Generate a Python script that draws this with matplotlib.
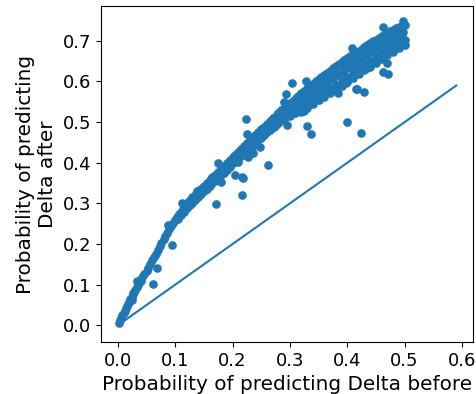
import numpy as np
import matplotlib
matplotlib.use('Agg')
import matplotlib.pyplot as plt

# upper edge of the dense band (probability before, probability after)
band_x = [0.002, 0.004, 0.006, 0.008, 0.010, 0.012, 0.014, 0.016, 0.018, 0.020,
          0.022, 0.024, 0.026, 0.028, 0.030, 0.033, 0.036, 0.040, 0.043, 0.046,
          0.050, 0.053, 0.056, 0.060, 0.063, 0.066, 0.070, 0.073, 0.076, 0.080,
          0.083, 0.086, 0.090, 0.093, 0.096, 0.100, 0.103, 0.106, 0.110, 0.113,
          0.116, 0.120, 0.123, 0.126, 0.130, 0.134, 0.138, 0.142, 0.146, 0.150,
          0.155, 0.160, 0.165, 0.170, 0.175, 0.180, 0.185, 0.190, 0.195, 0.200,
          0.205, 0.210, 0.215, 0.220, 0.225, 0.230, 0.235, 0.240, 0.245, 0.250,
          0.255, 0.260, 0.265, 0.270, 0.275, 0.280, 0.285, 0.290, 0.295, 0.300,
          0.305, 0.310, 0.315, 0.320, 0.325, 0.330, 0.335, 0.340, 0.345, 0.350,
          0.355, 0.360, 0.365, 0.370, 0.375, 0.380, 0.385, 0.390, 0.395, 0.400,
          0.405, 0.410, 0.415, 0.420, 0.425, 0.430, 0.435, 0.440, 0.445, 0.450,
          0.455, 0.460, 0.465, 0.470, 0.475, 0.480, 0.485, 0.490, 0.495, 0.500]
band_y = [0.005, 0.012, 0.018, 0.025, 0.030, 0.036, 0.042, 0.048, 0.052, 0.058,
          0.064, 0.070, 0.076, 0.081, 0.086, 0.094, 0.100, 0.110, 0.118, 0.126,
          0.134, 0.142, 0.150, 0.160, 0.168, 0.176, 0.186, 0.194, 0.202, 0.212,
          0.220, 0.228, 0.236, 0.244, 0.252, 0.260, 0.266, 0.274, 0.280, 0.287,
          0.293, 0.298, 0.304, 0.309, 0.315, 0.321, 0.327, 0.332, 0.338, 0.344,
          0.350, 0.357, 0.364, 0.371, 0.378, 0.385, 0.392, 0.399, 0.406, 0.413,
          0.420, 0.427, 0.434, 0.441, 0.448, 0.455, 0.462, 0.469, 0.476, 0.482,
          0.489, 0.496, 0.502, 0.509, 0.516, 0.522, 0.529, 0.535, 0.541, 0.547,
          0.553, 0.559, 0.565, 0.571, 0.577, 0.583, 0.589, 0.594, 0.600, 0.605,
          0.611, 0.616, 0.622, 0.627, 0.632, 0.637, 0.642, 0.647, 0.652, 0.657,
          0.662, 0.667, 0.672, 0.676, 0.681, 0.686, 0.690, 0.695, 0.699, 0.703,
          0.708, 0.712, 0.716, 0.720, 0.724, 0.727, 0.731, 0.734, 0.737, 0.740]

# body of the band, where it widens
lower_x = [0.105, 0.115, 0.125, 0.135, 0.145, 0.155, 0.165, 0.175, 0.185, 0.195,
           0.205, 0.215, 0.225, 0.235, 0.245, 0.255, 0.265, 0.275, 0.285, 0.295,
           0.305, 0.315, 0.325, 0.335, 0.345, 0.355, 0.365, 0.375, 0.385, 0.395,
           0.405, 0.415, 0.425, 0.435, 0.445, 0.455, 0.465, 0.475, 0.485, 0.495,
           0.290, 0.300, 0.310, 0.320, 0.330, 0.340, 0.350, 0.360, 0.370, 0.380,
           0.390, 0.400, 0.410, 0.420, 0.430, 0.440, 0.450, 0.460, 0.470, 0.480,
           0.490, 0.500,
           0.252, 0.262, 0.272, 0.282, 0.292, 0.302, 0.312, 0.322, 0.332, 0.342,
           0.352, 0.362, 0.372, 0.382, 0.392, 0.402, 0.412, 0.422, 0.432, 0.442,
           0.452, 0.462, 0.472, 0.482, 0.492, 0.498,
           0.200, 0.210, 0.220, 0.230, 0.240, 0.250, 0.260, 0.270, 0.280,
           0.110, 0.120, 0.130, 0.140, 0.150, 0.160, 0.170, 0.180, 0.190,
           0.400, 0.410, 0.420, 0.430, 0.440, 0.450, 0.460, 0.470, 0.480, 0.490,
           0.500, 0.350, 0.360, 0.370, 0.380, 0.390, 0.320, 0.330, 0.340]
lower_y = [0.262, 0.280, 0.295, 0.308, 0.322, 0.336, 0.350, 0.362, 0.376, 0.390,
           0.402, 0.416, 0.430, 0.442, 0.455, 0.468, 0.480, 0.494, 0.505, 0.518,
           0.530, 0.541, 0.552, 0.564, 0.575, 0.585, 0.596, 0.606, 0.616, 0.626,
           0.636, 0.645, 0.655, 0.664, 0.673, 0.682, 0.690, 0.698, 0.706, 0.712,
           0.505, 0.515, 0.525, 0.532, 0.545, 0.552, 0.565, 0.575, 0.585, 0.592,
           0.602, 0.612, 0.620, 0.632, 0.640, 0.650, 0.660, 0.668, 0.678, 0.688,
           0.695, 0.702,
           0.478, 0.490, 0.502, 0.514, 0.525, 0.536, 0.546, 0.556, 0.567, 0.578,
           0.588, 0.598, 0.608, 0.618, 0.628, 0.640, 0.650, 0.658, 0.668, 0.677,
           0.686, 0.694, 0.702, 0.710, 0.718, 0.722,
           0.400, 0.410, 0.424, 0.436, 0.448, 0.462, 0.475, 0.487, 0.498,
           0.272, 0.288, 0.302, 0.316, 0.330, 0.343, 0.356, 0.370, 0.383,
           0.600, 0.608, 0.618, 0.628, 0.636, 0.645, 0.655, 0.665, 0.672, 0.683,
           0.690, 0.555, 0.563, 0.572, 0.580, 0.590, 0.525, 0.535, 0.545]

# scattered points away from the band
out_x = [0.497, 0.462, 0.495, 0.485, 0.471, 0.453, 0.469, 0.462, 0.471, 0.408,
         0.434, 0.419, 0.410, 0.399, 0.417, 0.429, 0.384, 0.370, 0.399, 0.424,
         0.303, 0.328, 0.293, 0.290, 0.323, 0.309, 0.330, 0.337, 0.295, 0.272,
         0.349, 0.223, 0.225, 0.248, 0.235, 0.227, 0.262, 0.174, 0.204, 0.218,
         0.216, 0.138, 0.180, 0.209, 0.171, 0.112, 0.087, 0.094, 0.068, 0.061,
         0.033, 0.026, 0.024, 0.325, 0.398, 0.415, 0.216]
out_y = [0.749, 0.734, 0.702, 0.697, 0.683, 0.661, 0.646, 0.624, 0.619, 0.683,
         0.633, 0.631, 0.614, 0.599, 0.581, 0.575, 0.572, 0.579, 0.500, 0.473,
         0.597, 0.601, 0.569, 0.550, 0.530, 0.522, 0.490, 0.470, 0.493, 0.488,
         0.562, 0.508, 0.470, 0.439, 0.424, 0.414, 0.394, 0.399, 0.370, 0.362,
         0.320, 0.330, 0.353, 0.402, 0.298, 0.301, 0.246, 0.197, 0.141, 0.101,
         0.108, 0.079, 0.062, 0.528, 0.597, 0.581, 0.364]

# reference diagonal
diag_x = [0.0, 0.59]
diag_y = [0.0, 0.59]

fig = plt.figure(figsize=(4.76, 3.94), dpi=100)
ax = fig.add_axes([0.212, 0.132, 0.782, 0.853])

xs = band_x + lower_x + out_x
ys = band_y + lower_y + out_y
ax.scatter(xs, ys, s=27, color='#1f77b4')
ax.plot(diag_x, diag_y, color='#1f77b4', lw=1.5)

ax.set_xlim(-0.0295, 0.6195)
ax.set_ylim(-0.041, 0.786)
ax.set_xticks(np.arange(0, 0.61, 0.1))
ax.set_yticks(np.arange(0, 0.71, 0.1))
ax.tick_params(labelsize=13)
ax.set_xlabel('Probability of predicting Delta before', fontsize=14.4)
ax.set_ylabel('Probability of predicting\nDelta after', fontsize=14.4)

fig.savefig('out.png', dpi=100)
